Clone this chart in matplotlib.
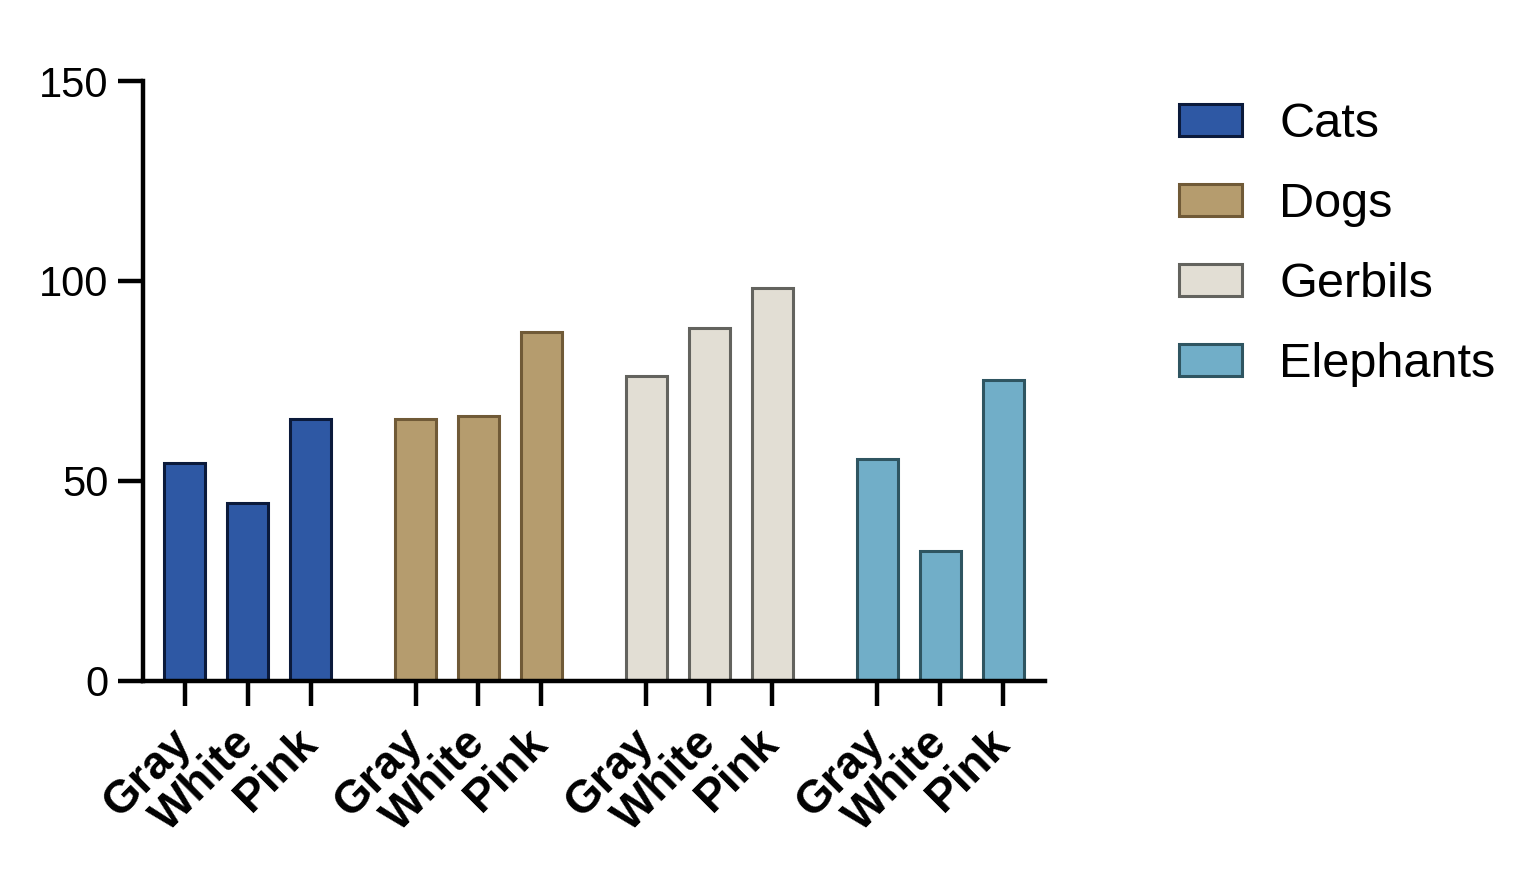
import numpy as np
import matplotlib
matplotlib.use("Agg")
import matplotlib.pyplot as plt

plt.rcParams['font.family'] = ['Liberation Sans', 'DejaVu Sans']

# data
colors = ["Gray", "White", "Pink"]
animals = ["Cats", "Dogs", "Gerbils", "Elephants"]
cats = [54.4, 44.5, 65.5]
dogs = [65.5, 66.2, 87.1]
gerbils = [76.2, 88.2, 98.2]
elephants = [55.4, 32.5, 75.1]

fills = ["#2E58A4", "#B59C6E", "#E2DED4", "#71AEC8"]
edges = ["#0B1A3B", "#705A37", "#63635E", "#2F5561"]

group_step = 3.667
bar_w = 0.65

fig = plt.figure(figsize=(15.39, 8.74), dpi=100)
ax = fig.add_axes([0.0929, 0.2212, 0.679 - 0.0929, 0.9073 - 0.2212])

tick_pos = []
tick_lab = []
for g, (name, vals) in enumerate(zip(animals, [cats, dogs, gerbils, elephants])):
    x = g * group_step + np.arange(len(vals))
    ax.bar(x, vals, width=bar_w, color=fills[g], edgecolor=edges[g],
           linewidth=2.2, label=name, zorder=2)
    tick_pos.extend(x)
    tick_lab.extend(colors)

ax.set_xlim(-0.66, 3 * group_step + 2 + 0.66)
ax.set_ylim(0, 150)
ax.set_yticks([0, 50, 100, 150])
ax.set_xticks(tick_pos)
ax.set_xticklabels(tick_lab, rotation=45, ha='right', va='center',
                   rotation_mode='anchor', fontsize=33, fontweight='bold')

for s in ['top', 'right']:
    ax.spines[s].set_visible(False)
ax.spines['left'].set_linewidth(3.2)
ax.spines['bottom'].set_linewidth(3.2)
ax.spines['left'].set_capstyle('projecting')
ax.tick_params(axis='y', length=18, width=3.2, labelsize=30, pad=7)
ax.tick_params(axis='x', length=18, width=3.2, pad=22)

leg = ax.legend(loc='upper left', bbox_to_anchor=(0.766, 0.883),
                bbox_transform=fig.transFigure, frameon=False, fontsize=35,
                handlelength=1.3, handleheight=0.64, handletextpad=0.76,
                labelspacing=0.72, borderaxespad=0, borderpad=0)

fig.savefig("out.png", dpi=100)
